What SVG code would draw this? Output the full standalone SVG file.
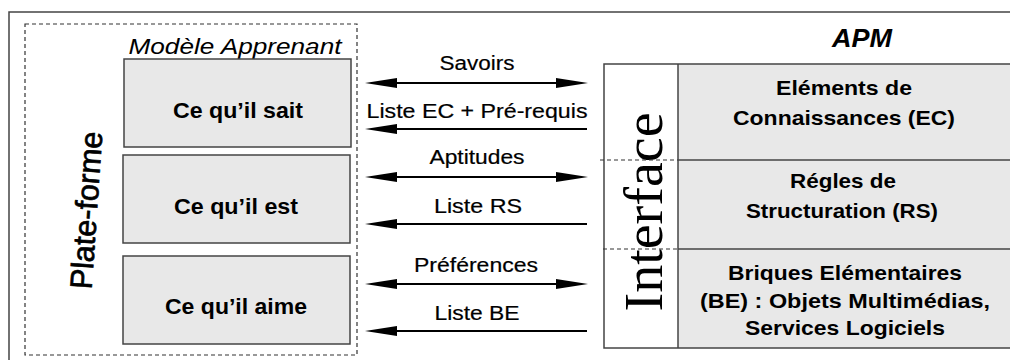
<svg xmlns="http://www.w3.org/2000/svg" width="1010" height="360" viewBox="0 0 1010 360">
<style>
.frame{fill:none;stroke:#444;stroke-width:1.5}
.dash{fill:none;stroke:#333;stroke-width:1.2;stroke-dasharray:4 3}
.box{fill:#e8e8e8;stroke:#444;stroke-width:1.5}
.line{stroke:#000;stroke-width:2}
.head{fill:#000}
.lbl{font-family:"Liberation Sans",Arial,sans-serif;font-size:20px;text-anchor:middle;fill:#000;stroke:#000;stroke-width:0.2}
.bold{font-family:"Liberation Sans",Arial,sans-serif;font-size:21px;font-weight:bold;text-anchor:middle;fill:#000}
.sep{stroke:#444;stroke-width:1.5}
.sepd{stroke:#333;stroke-width:1.2;stroke-dasharray:4 3}
</style>
<defs>
<polygon id="hl" points="0,0 32,-5 32,5" class="head"/>
<polygon id="hr" points="0,0 -32,-5 -32,5" class="head"/>
</defs>
<rect x="0" y="0" width="1010" height="360" fill="#fff"/>
<rect class="frame" x="9" y="12" width="1010" height="360"/>

<g id="plateforme">
<rect class="dash" x="25" y="24" width="332" height="331"/>
<text transform="translate(97,211) rotate(-86)" style="font-family:'Liberation Sans',Arial,sans-serif;font-size:31px;text-anchor:middle;stroke:#000;stroke-width:0.7" textLength="158" lengthAdjust="spacingAndGlyphs">Plate-forme</text>
</g>

<g id="modele">
<text x="235" y="54" style="font-family:'Liberation Sans',Arial,sans-serif;font-size:22px;font-style:italic;text-anchor:middle" textLength="213" lengthAdjust="spacingAndGlyphs">Modèle Apprenant</text>
</g>
<g id="sait">
<rect class="box" x="124" y="59" width="227" height="88"/>
<text class="bold" x="238" y="118" style="font-size:22px" textLength="130" lengthAdjust="spacingAndGlyphs">Ce qu’il sait</text>
</g>
<g id="est">
<rect class="box" x="123" y="155" width="227" height="88"/>
<text class="bold" x="236" y="214" style="font-size:22px" textLength="124" lengthAdjust="spacingAndGlyphs">Ce qu’il est</text>
</g>
<g id="aime">
<rect class="box" x="123" y="256" width="227" height="88"/>
<text class="bold" x="236" y="314" style="font-size:22px" textLength="142" lengthAdjust="spacingAndGlyphs">Ce qu’il aime</text>
</g>

<g id="connectors">
<line class="line" x1="380" y1="83" x2="575" y2="83"/>
<use href="#hl" x="365" y="83"/><use href="#hr" x="588" y="83"/>
<text class="lbl" x="477" y="70" textLength="75" lengthAdjust="spacingAndGlyphs">Savoirs</text>

<line class="line" x1="380" y1="129" x2="587" y2="129"/>
<use href="#hl" x="365" y="129"/>
<text class="lbl" x="477" y="118" textLength="221" lengthAdjust="spacingAndGlyphs">Liste EC + Pré-requis</text>

<line class="line" x1="380" y1="177" x2="575" y2="177"/>
<use href="#hl" x="365" y="177"/><use href="#hr" x="588" y="177"/>
<text class="lbl" x="477" y="164" textLength="95" lengthAdjust="spacingAndGlyphs">Aptitudes</text>

<line class="line" x1="380" y1="224" x2="587" y2="224"/>
<use href="#hl" x="365" y="224"/>
<text class="lbl" x="478" y="213" textLength="88" lengthAdjust="spacingAndGlyphs">Liste RS</text>

<line class="line" x1="380" y1="284" x2="575" y2="284"/>
<use href="#hl" x="365" y="284"/><use href="#hr" x="588" y="284"/>
<text class="lbl" x="476" y="272" textLength="124" lengthAdjust="spacingAndGlyphs">Préférences</text>

<line class="line" x1="380" y1="331" x2="587" y2="331"/>
<use href="#hl" x="365" y="331"/>
<text class="lbl" x="477" y="320" textLength="85" lengthAdjust="spacingAndGlyphs">Liste BE</text>
</g>

<g id="apm">
<text x="862" y="47" style="font-family:'Liberation Sans',Arial,sans-serif;font-size:26px;font-weight:bold;font-style:italic;text-anchor:middle" textLength="60" lengthAdjust="spacingAndGlyphs">APM</text>
<rect x="678" y="64" width="340" height="284" fill="#e8e8e8"/>
<rect class="frame" x="604" y="64" width="420" height="284"/>
<line class="sep" x1="678" y1="64" x2="678" y2="348"/>
</g>

<g id="interface">
<text transform="translate(662,212) rotate(-90)" style="font-family:'Liberation Serif','Times New Roman',serif;font-size:54px;text-anchor:middle" textLength="199" lengthAdjust="spacingAndGlyphs">Interface</text>
<line class="sepd" x1="600" y1="160" x2="678" y2="160"/>
<line class="sepd" x1="603" y1="249" x2="678" y2="249"/>
</g>

<g id="ec">
<line class="sep" x1="678" y1="160" x2="1010" y2="160"/>
<text class="bold" x="844" y="95" textLength="136" lengthAdjust="spacingAndGlyphs">Eléments de</text>
<text class="bold" x="844" y="125" textLength="222" lengthAdjust="spacingAndGlyphs">Connaissances (EC)</text>
</g>
<g id="rs">
<line class="sep" x1="678" y1="249" x2="1010" y2="249"/>
<text class="bold" x="843" y="188" textLength="106" lengthAdjust="spacingAndGlyphs">Régles de</text>
<text class="bold" x="842" y="218" textLength="192" lengthAdjust="spacingAndGlyphs">Structuration (RS)</text>
</g>
<g id="be">
<text class="bold" x="845" y="280" textLength="234" lengthAdjust="spacingAndGlyphs">Briques Elémentaires</text>
<text class="bold" x="845" y="308" textLength="290" lengthAdjust="spacingAndGlyphs">(BE) : Objets Multimédias,</text>
<text class="bold" x="845" y="335" textLength="200" lengthAdjust="spacingAndGlyphs">Services Logiciels</text>
</g>
</svg>
